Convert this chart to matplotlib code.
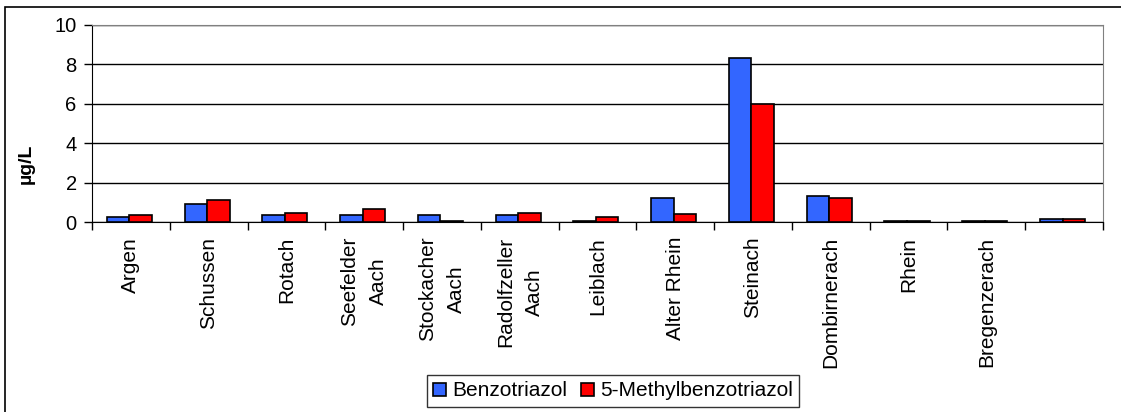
import matplotlib
matplotlib.use('Agg')
import matplotlib.pyplot as plt
import matplotlib.patches as patches
import numpy as np

plt.rcParams['font.family'] = ['Liberation Sans', 'DejaVu Sans']

# Data.
stations = ['Argen', 'Schussen', 'Rotach', 'Seefelder\nAach', 'Stockacher\nAach',
            'Radolfzeller\nAach', 'Leiblach', 'Alter Rhein', 'Steinach', 'Dombirnerach',
            'Rhein', 'Bregenzerach', '']
benzotriazol = [0.25, 0.9, 0.33, 0.33, 0.33, 0.33, 0.07, 1.2, 8.3, 1.3, 0.05, 0.05, 0.17]
methylbenzotriazol = [0.33, 1.13, 0.48, 0.65, 0.07, 0.48, 0.25, 0.42, 6.0, 1.2, 0.05, 0.05, 0.17]
yTicks = [0, 2, 4, 6, 8, 10]

W, H = 1121, 412
fig = plt.figure(figsize=(W / 100, H / 100), dpi=100)

# Outer chart border (left and top visible, rest runs off the image).
border = patches.Rectangle((5 / W, -0.1), 1.2, 1 - 7 / H + 0.1, transform=fig.transFigure,
                           facecolor='none', edgecolor='black', linewidth=1.2)
fig.add_artist(border)

ax = fig.add_axes([92 / W, 1 - 222 / H, (1103 - 92) / W, (222 - 25) / H])

x = np.arange(len(stations))
barWidth = 0.29
ax.bar(x - 0.02 - barWidth / 2, benzotriazol, width=barWidth, color='#3366ff',
       edgecolor='black', linewidth=1.2, label='Benzotriazol', zorder=3)
ax.bar(x - 0.02 + barWidth / 2, methylbenzotriazol, width=barWidth, color='#ff0000',
       edgecolor='black', linewidth=1.2, label='5-Methylbenzotriazol', zorder=3)

ax.set_xlim(-0.5, len(stations) - 0.5)
ax.set_ylim(0, 10)
ax.set_yticks(yTicks)
ax.set_yticklabels([str(t) for t in yTicks], fontsize=14.5)
ax.yaxis.grid(True, color='black', linewidth=1)
ax.set_axisbelow(True)

# Category ticks sit between the groups.
ax.set_xticks(np.arange(len(stations) + 1) - 0.5)
ax.set_xticklabels([])
ax.tick_params(axis='x', direction='out', length=6, width=1)
ax.tick_params(axis='y', direction='out', length=6, width=1, pad=5)
for i, name in enumerate(stations):
    ax.text(i, -0.75, name, rotation=90, ha='center', va='top',
            fontsize=15, linespacing=1.65, transform=ax.transData)

for side in ['top', 'right']:
    ax.spines[side].set_color('#808080')
ax.spines['left'].set_color('black')
ax.spines['bottom'].set_color('black')

fig.text(26 / W, 1 - 164 / H, 'µg/L', rotation=90, ha='center', va='center',
         fontsize=14, fontweight='bold')

fig.legend(loc='center', bbox_to_anchor=(613 / W, 1 - 391 / H), ncol=2, fontsize=15,
           frameon=True, fancybox=False, edgecolor='black', handlelength=0.6,
           handleheight=0.6, handletextpad=0.3, columnspacing=0.7, borderpad=0.3)

fig.savefig('out.png', dpi=100)
